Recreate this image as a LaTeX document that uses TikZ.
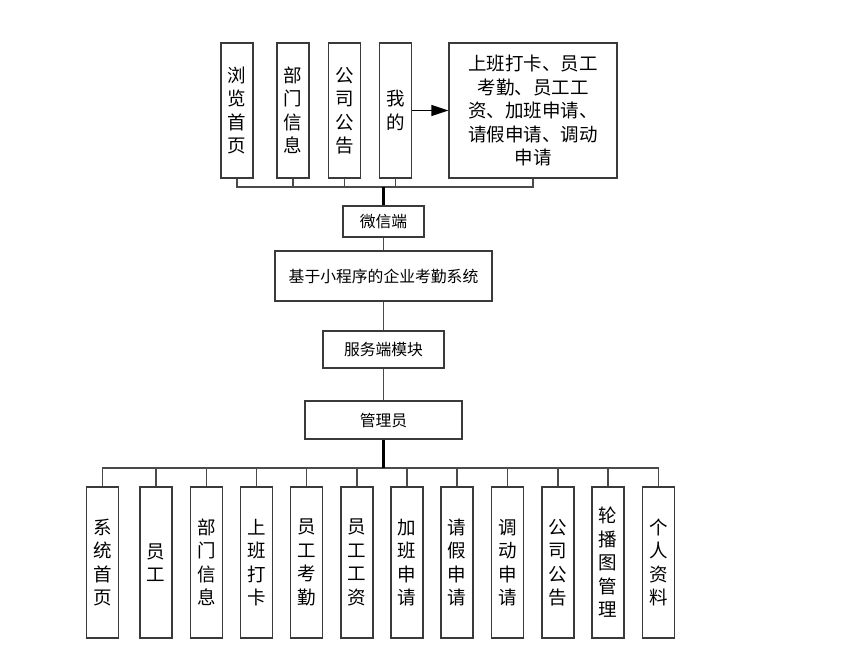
\documentclass[tikz,border=0pt]{standalone}
\usepackage{fontspec}
\usetikzlibrary{arrows.meta,positioning,calc}
\newfontfamily\cjk{Noto Sans CJK SC}
\definecolor{kqEdge}{HTML}{3A3A3A}
\definecolor{kqLine}{HTML}{4A4A4A}
\tikzset{
  % Tall box with one character per line.
  kq/col/.style={
    draw=kqEdge, fill=white, line width=1.3pt, inner sep=0pt, align=center,
    font=\cjk\fontsize{18.5}{23.5}\selectfont, text=black
  },
  % Flat box on the middle spine.
  kq/box/.style={
    draw=kqEdge, fill=white, line width=1.3pt, inner sep=2pt, align=center,
    font=\cjk\fontsize{15.8}{19}\selectfont, text=black
  },
  % Connectors: thin for branches, heavy for the stem into a bus.
  kq/line/.style={draw=kqLine, line width=1.5pt},
  kq/stem/.style={draw=black, line width=2.4pt},
  kq/arrow/.style={-{Triangle[length=17pt,width=11pt]}, draw=black, line width=1.3pt},
}
\begin{document}
\begin{tikzpicture}[x=1pt,y=-1pt]
  \useasboundingbox (0,0) rectangle (847,658);
  % wechat side
  \node[kq/col, minimum width=32pt, minimum height=135pt] (liulan)  at (237,110.5) {浏\\览\\首\\页};
  \node[kq/col, minimum width=32pt, minimum height=135pt] (bumen)   at (293,110.5) {部\\门\\信\\息};
  \node[kq/col, minimum width=32pt, minimum height=135pt] (gonggao) at (344.5,110.5) {公\\司\\公\\告};
  \node[kq/col, minimum width=32pt, minimum height=135pt] (wode)    at (395.5,110.5) {我\\的};
  \node[kq/col, minimum width=168pt, minimum height=135pt] (wodemenu) at (533,110.5)
       {上班打卡、员工\\考勤、员工工\\资、加班申请、\\请假申请、调动\\申请};
  \draw[kq/arrow] (wode.east) -- (wodemenu.west);
  \node[kq/box, minimum width=81pt, minimum height=31pt]  (wx)  at (383.5,221.5) {微信端};
  \node[kq/box, minimum width=217pt, minimum height=50pt] (sys) at (383.5,276) {基于小程序的企业考勤系统};
  \node[kq/box, minimum width=121pt, minimum height=37pt] (fwd) at (383.5,349.5) {服务端模块};
  \node[kq/box, minimum width=157pt, minimum height=38pt] (gly) at (383.5,420) {管理员};
  \coordinate (wxbus) at (383.5,187);
  \foreach \n in {liulan,bumen,gonggao,wode,wodemenu}
    \draw[kq/line] (\n.south) |- (wxbus);
  \draw[kq/stem] (wx.north) -- (wxbus);
  \draw[kq/line] (wx.south) -- (sys.north);
  \draw[kq/line] (sys.south) -- (fwd.north);
  \draw[kq/line] (fwd.south) -- (gly.north);
  % admin side
  \coordinate (glybus) at (383.5,468);
  \foreach \x/\t [count=\k] in {102.5/{系\\统\\首\\页}, 156/{员\\工}, 206.5/{部\\门\\信\\息},
      256.5/{上\\班\\打\\卡}, 306.5/{员\\工\\考\\勤}, 357/{员\\工\\工\\资}, 407/{加\\班\\申\\请},
      457/{请\\假\\申\\请}, 507.5/{调\\动\\申\\请}, 558/{公\\司\\公\\告},
      608/{轮\\播\\图\\管\\理}, 658.5/{个\\人\\资\\料}} {
    \node[kq/col, minimum width=32pt, minimum height=151pt] (m\k) at (\x,562.5) {\t};
    \draw[kq/line] (m\k.north) |- (glybus);
  }
  \draw[kq/stem] (gly.south) -- (glybus);
\end{tikzpicture}
\end{document}
